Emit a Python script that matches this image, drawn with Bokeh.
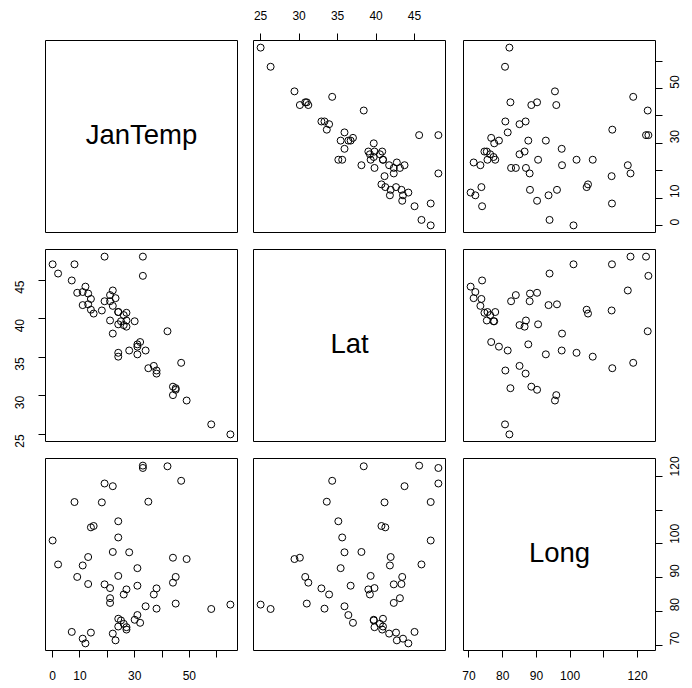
import math
from bokeh.plotting import figure
from bokeh.layouts import column, row
from bokeh.models import LinearAxis, FixedTicker, Range1d, Label
from bokeh.embed import file_html
from bokeh.resources import INLINE

# US cities: January temperature, latitude, longitude
jan_temp = [44, 38, 35, 31, 47, 42, 15, 22, 26, 30, 45, 65, 58, 37, 22, 19, 21, 11,
            22, 27, 45, 12, 25, 23, 21, 2, 24, 8, 13, 11, 27, 24, 14, 27, 34, 31,
            0, 26, 21, 28, 33, 24, 24, 38, 31, 24, 49, 44, 18, 7, 32, 33, 19, 9, 13, 14]
lat = [31.2, 32.9, 33.6, 35.4, 34.3, 38.4, 40.7, 41.7, 40.5, 39.7, 31.0, 25.0, 26.3, 33.9,
       43.7, 42.3, 39.8, 41.8, 38.1, 39.0, 30.8, 44.2, 39.7, 42.7, 43.1, 45.9, 39.3, 47.1,
       41.9, 43.5, 39.8, 35.1, 42.6, 40.8, 35.9, 36.4, 47.1, 39.2, 42.3, 35.9, 45.6, 40.9,
       40.9, 33.3, 36.7, 35.6, 29.4, 30.1, 41.1, 45.0, 37.0, 48.1, 48.1, 43.4, 43.3, 41.2]
long_ = [88.5, 86.8, 112.5, 92.8, 118.7, 123.0, 105.3, 73.4, 76.3, 77.5, 82.3, 82.0, 80.7,
         85.0, 117.1, 88.0, 86.9, 93.6, 97.6, 86.5, 90.2, 70.5, 77.3, 71.4, 83.9, 93.9,
         90.5, 112.4, 96.1, 71.9, 75.3, 106.7, 73.7, 74.6, 81.5, 78.9, 101.0, 85.0, 82.5,
         97.5, 123.2, 77.8, 75.5, 80.8, 87.6, 101.9, 95.5, 95.9, 112.3, 73.9, 76.6, 122.5,
         117.9, 90.2, 88.1, 104.9]

var_names = ["JanTemp", "Lat", "Long"]
tick_values = {
    "JanTemp": [0, 10, 20, 30, 40, 50, 60],
    "Lat": [25, 30, 35, 40, 45],
    "Long": [70, 80, 90, 100, 110, 120],
}
tick_labels_shown = {
    "JanTemp": [0, 10, 30, 50],
    "Lat": [25, 30, 35, 40, 45],
    "Long": [70, 80, 90, 100, 120],
}

data = {"JanTemp": jan_temp, "Lat": lat, "Long": long_}


def ext_range(v):
    lo, hi = min(v), max(v)
    d = 0.04 * (hi - lo)
    return lo - d, hi + d


FONT = "Liberation Sans"
FRAME = 192
col_borders = [(45, 8), (8, 9), (9, 33)]
row_borders = [(40, 8), (9, 8), (9, 36)]


def make_axis(name, vertical):
    ax = LinearAxis(ticker=FixedTicker(ticks=tick_values[name], minor_ticks=[]))
    ax.axis_line_color = None
    ax.major_tick_in = 0
    ax.major_tick_out = 7
    ax.major_tick_line_color = "black"
    ax.major_tick_line_width = 1
    ax.minor_tick_line_color = None
    ax.major_label_text_font = FONT
    ax.major_label_text_font_size = "12px"
    ax.major_label_text_color = "black"
    ax.major_label_overrides = {t: "" for t in tick_values[name]
                                if t not in tick_labels_shown[name]}
    if vertical:
        ax.major_label_orientation = math.pi / 2
    return ax


rows = []
for r in range(3):
    figs = []
    for c in range(3):
        xn, yn = var_names[c], var_names[r]
        bl, br = col_borders[c]
        bt, bb = row_borders[r]
        xr = ext_range(data[xn])
        yr = ext_range(data[yn])
        p = figure(width=bl + FRAME + br, height=bt + FRAME + bb,
                   x_range=Range1d(*xr), y_range=Range1d(*yr),
                   x_axis_location=None, y_axis_location=None,
                   toolbar_location=None, output_backend="svg",
                   min_border_left=bl, min_border_right=br,
                   min_border_top=bt, min_border_bottom=bb,
                   background_fill_color="white", border_fill_color="white",
                   outline_line_color="black", outline_line_width=1)
        p.xgrid.grid_line_color = None
        p.ygrid.grid_line_color = None
        if r == c:
            # nudge the label ~2.5px above the panel centre
            y_mid = (yr[0] + yr[1]) / 2 + 2.5 / FRAME * (yr[1] - yr[0])
            p.add_layout(Label(x=(xr[0] + xr[1]) / 2, y=y_mid,
                               text=xn, text_align="center", text_baseline="middle",
                               text_font=FONT, text_font_size="27.5px",
                               text_color="black"))
        else:
            p.scatter(data[xn], data[yn], size=7, fill_color=None,
                      line_color="black", line_width=1)
        # axes like R pairs()
        if r == 0 and c == 1:
            ax = make_axis(xn, False)
            ax.major_label_standoff = 14
            p.add_layout(ax, "above")
        if r == 2 and c in (0, 2):
            ax = make_axis(xn, False)
            ax.major_label_standoff = 13
            p.add_layout(ax, "below")
        if c == 2 and r in (0, 2):
            ax = make_axis(yn, True)
            ax.major_label_standoff = 12
            p.add_layout(ax, "right")
        if c == 0 and r == 1:
            ax = make_axis(yn, True)
            ax.major_label_standoff = 19
            p.add_layout(ax, "left")
        figs.append(p)
    rows.append(row(*figs, spacing=0))

layout = column(*rows, spacing=0)

open("out.html", "w").write(file_html(layout, INLINE))
